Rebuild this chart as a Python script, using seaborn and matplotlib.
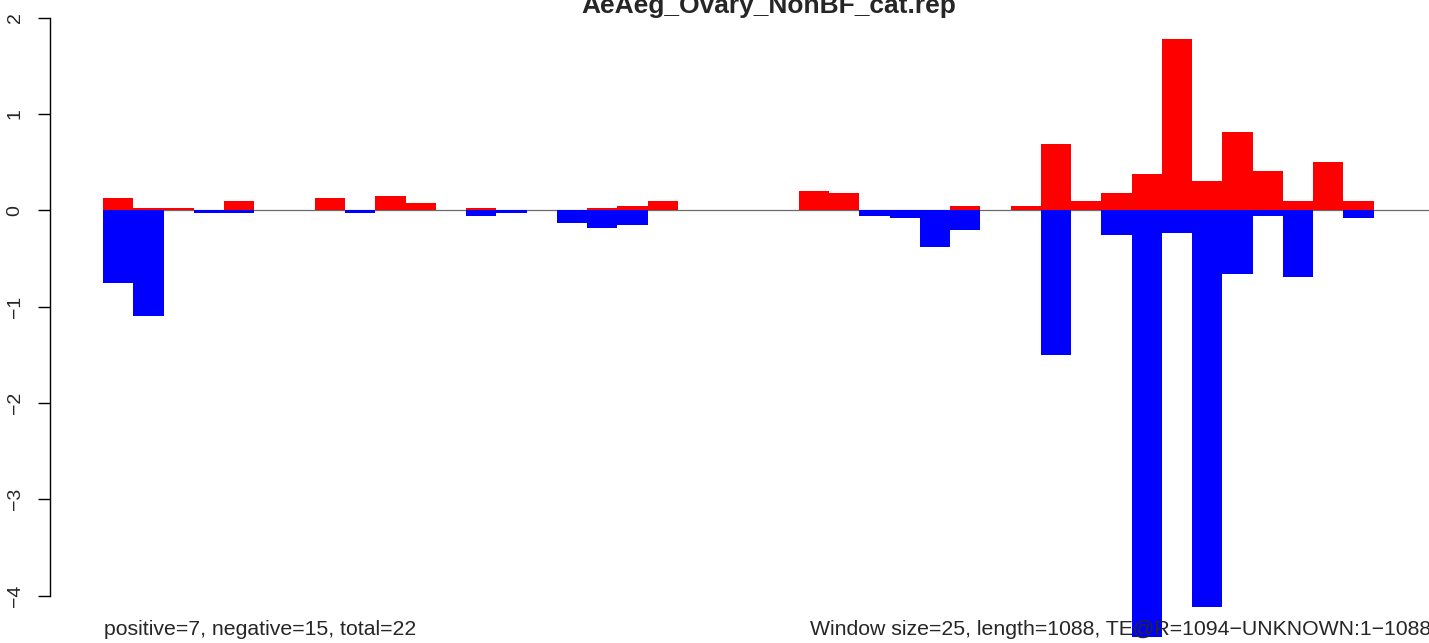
import numpy as np
import pandas as pd
import matplotlib
matplotlib.use('Agg')
import matplotlib.pyplot as plt
import seaborn as sns

# window settings / labels
window = 25
seq_length = 1088
title = "AeAeg_Ovary_NonBF_cat.rep"
left_note = "positive=7, negative=15, total=22"
right_note = "Window size=25, length=1088, TE@R=1094\u2212UNKNOWN:1\u22121088"
y_ticks = [-4, -3, -2, -1, 0, 1, 2]

# values per window
red_vals = [0.128, 0.024, 0.024, 0.0, 0.097, 0.0, 0.0, 0.128, 0.0, 0.149,
            0.076, 0.0, 0.024, 0.0, 0.0, 0.0, 0.024, 0.045, 0.097, 0.0,
            0.0, 0.0, 0.0, 0.200, 0.180, 0.0, 0.0, 0.0, 0.045, 0.0,
            0.045, 0.690, 0.097, 0.180, 0.377, 1.778, 0.304, 0.813, 0.408, 0.097,
            0.500, 0.097]
blue_vals = [-0.76, -1.095, 0.0, -0.03, -0.03, 0.0, 0.0, 0.0, -0.03, 0.0,
             0.0, 0.0, -0.06, -0.03, 0.0, -0.132, -0.184, -0.153, 0.0, 0.0,
             0.0, 0.0, 0.0, 0.0, 0.0, -0.06, -0.08, -0.38, -0.205, 0.0,
             0.0, -1.50, 0.0, -0.255, -4.43, -0.236, -4.116, -0.66, -0.056, -0.693,
             0.0, -0.08]

sns.set_style("white")
plt.rcParams['font.family'] = ['Liberation Sans', 'DejaVu Sans']

W, H = 1429, 643
fig = plt.figure(figsize=(W / 100, H / 100), dpi=100)
ax = fig.add_axes([50 / W, 0, (W - 50) / W, 1])

centers = np.arange(len(red_vals)) * window + window / 2
df_blue = pd.DataFrame({'pos': centers, 'val': blue_vals})
df_red = pd.DataFrame({'pos': centers, 'val': red_vals})

# zero line under the bars
ax.hlines(0, 0, seq_length + 20, color='#6b6b6b', lw=0.9, zorder=0)

sns.barplot(data=df_blue, x='pos', y='val', native_scale=True, width=1,
            color='#0000FF', saturation=1, errorbar=None, linewidth=0,
            edgecolor='none', ax=ax, zorder=2)
sns.barplot(data=df_red, x='pos', y='val', native_scale=True, width=1,
            color='#FF0000', saturation=1, errorbar=None, linewidth=0,
            edgecolor='none', ax=ax, zorder=3)

# pixel-matched limits
px_per_x = 30.25 / window
ax.set_xlim((50 - 103) / px_per_x, (W - 103) / px_per_x)
ax.set_ylim(-(H - 210.3) / 96.3, 210.3 / 96.3)

ax.set_xlabel('')
ax.set_ylabel('')
ax.set_xticks([])
for s in ['top', 'right', 'bottom']:
    ax.spines[s].set_visible(False)
ax.spines['left'].set_bounds(-4, 2)
ax.spines['left'].set_linewidth(1.0)
ax.spines['left'].set_color('black')
ax.set_yticks(y_ticks)
ax.set_yticklabels([str(t).replace('-', '\u2212') for t in y_ticks],
                   rotation=90, va='center', fontsize=14)
ax.tick_params(axis='y', direction='out', length=9, width=1.0, pad=10,
               left=True, color='black')
ax.set_facecolor('white')

fig.text(768.5 / W, 1 - 12.7 / H, title, ha='center', va='baseline',
         fontsize=19, fontweight='bold')
fig.text(104 / W, 1 - 635 / H, left_note, ha='left', va='baseline', fontsize=15.3)
fig.text(810 / W, 1 - 635 / H, right_note, ha='left', va='baseline', fontsize=15.3)

fig.savefig('out.png', dpi=100)
